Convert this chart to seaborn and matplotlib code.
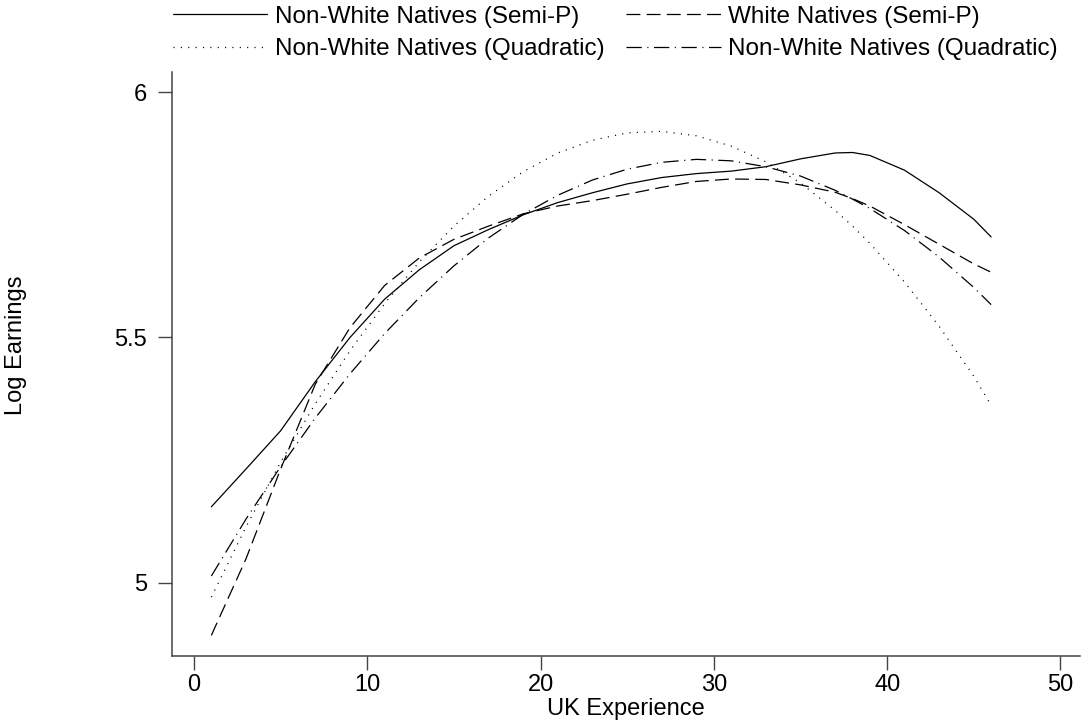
import matplotlib
matplotlib.use("Agg")
import matplotlib.pyplot as plt
import seaborn as sns
import pandas as pd

# ---- data ----
experience = [1, 3, 5, 7, 9, 11, 13, 15, 17, 19, 21, 23, 25, 27, 29, 31, 33, 35, 37, 38, 39, 41, 43, 45, 46]

nonwhite_semip = [5.155, 5.232, 5.31, 5.41, 5.50, 5.578, 5.638, 5.687, 5.72, 5.75, 5.775, 5.795, 5.813,
                  5.826, 5.834, 5.839, 5.848, 5.864, 5.876, 5.877, 5.871, 5.841, 5.795, 5.741, 5.705]
white_semip = [4.893, 5.049, 5.232, 5.405, 5.52, 5.606, 5.662, 5.70, 5.727, 5.752, 5.768, 5.779, 5.792,
               5.806, 5.818, 5.823, 5.822, 5.811, 5.796, 5.783, 5.768, 5.73, 5.69, 5.65, 5.633]
nonwhite_quad = [4.971, 5.114, 5.246, 5.365, 5.473, 5.569, 5.654, 5.727, 5.788, 5.838, 5.876, 5.902, 5.917,
                 5.920, 5.911, 5.890, 5.858, 5.815, 5.759, 5.727, 5.692, 5.613, 5.523, 5.421, 5.362]
nonwhite_quad2 = [5.014, 5.130, 5.237, 5.336, 5.426, 5.508, 5.581, 5.646, 5.703, 5.751, 5.790, 5.821, 5.843,
                  5.857, 5.863, 5.860, 5.848, 5.829, 5.800, 5.782, 5.763, 5.718, 5.664, 5.602, 5.567]

labels = ["Non-White Natives (Semi-P)", "White Natives (Semi-P)",
          "Non-White Natives (Quadratic)", "Non-White Natives (Quadratic)"]
x_ticks = [0, 10, 20, 30, 40, 50]
y_ticks = [5, 5.5, 6]
y_ticklabels = ["5", "5.5", "6"]

# ---- style ----
sns.set_theme(style="white")
plt.rcParams["font.family"] = ["Liberation Sans", "DejaVu Sans"]
plt.rcParams["lines.scale_dashes"] = False
plt.rcParams["text.color"] = "black"

FS = 17
LFS = 17.5
fig = plt.figure(figsize=(10.85, 7.24), dpi=100)
ax = fig.add_axes([172 / 1085, (724 - 656) / 724, 908 / 1085, 584 / 724])

series = [nonwhite_semip, white_semip, nonwhite_quad, nonwhite_quad2]
styles = ["-", (0, (10, 4.5)), (0, (0.8, 4.5)), (0, (11, 4, 0.8, 4))]
handles = []
for vals, ls, lab in zip(series, styles, labels):
    df = pd.DataFrame({"x": experience, "y": vals})
    sns.lineplot(data=df, x="x", y="y", ax=ax, color="black", linewidth=0.9,
                 linestyle=ls, label=lab, legend=False, sort=True)
    handles.append(ax.lines[-1])

ax.set_xlim(-1.27, 51.13)
ax.set_ylim(4.851, 6.041)
ax.set_xticks(x_ticks)
ax.set_xticklabels([str(t) for t in x_ticks])
ax.set_yticks(y_ticks)
ax.set_yticklabels(y_ticklabels)
ax.set_xlabel("")
ax.set_ylabel("")

for s in ["top", "right"]:
    ax.spines[s].set_visible(False)
for s in ["left", "bottom"]:
    ax.spines[s].set_color("#444444")
    ax.spines[s].set_linewidth(1.1)

ax.tick_params(axis="both", which="major", direction="out", length=10, width=1.0,
               color="#444444", labelsize=FS, labelcolor="black",
               bottom=True, left=True, top=False, right=False)
ax.tick_params(axis="x", pad=3)
ax.tick_params(axis="y", pad=8)
ax.grid(False)

fig.text(626 / 1085, 9 / 724, "UK Experience", ha="center", va="baseline",
         fontsize=FS, color="black")
fig.text(16 / 1085, 1 - 345 / 724, "Log Earnings", ha="center", va="center",
         rotation=90, fontsize=FS, color="black")

order = [0, 2, 1, 3]
leg = fig.legend([handles[i] for i in order], [labels[i] for i in order],
                 loc="upper left", bbox_to_anchor=(158 / 1085, 1.012), ncol=2,
                 frameon=False, fontsize=LFS, handlelength=3.9, handletextpad=0.3,
                 columnspacing=0.9, labelspacing=0.43, borderpad=0.1)
for t in leg.get_texts():
    t.set_color("black")

fig.savefig("out.png", dpi=100, facecolor="white")
